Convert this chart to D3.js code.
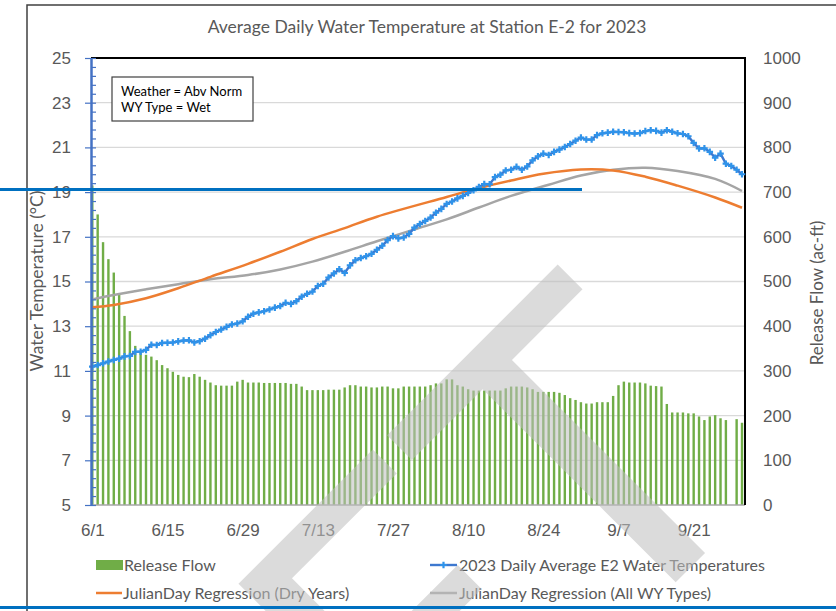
<!DOCTYPE html>
<html>
<head>
<meta charset="utf-8">
<script src="https://cdn.jsdelivr.net/npm/d3@7"></script>
<style>
  body { margin: 0; background: #fff; }
  svg { display: block; font-family: Lato, "Open Sans", sans-serif; }
</style>
</head>
<body>
<svg id="chart" width="836" height="611"></svg>
<script>
// daily values, one per day starting 6/1/2023
const startDay = "2023-06-01";

const releaseFlow = [
  715, 650, 588, 550, 520, 470, 423, 389, 356, 343,
  336, 332, 324, 313, 306, 298, 291, 287, 286, 293,
  287, 280, 274, 268, 267, 267, 267, 276, 280, 274,
  274, 274, 273, 273, 273, 273, 273, 271, 271, 265,
  257, 257, 257, 257, 258, 258, 258, 263, 268, 268,
  265, 265, 263, 263, 265, 265, 261, 261, 265, 265,
  265, 265, 265, 268, 272, 272, 281, 281, 268, 265,
  259, 256, 256, 256, 256, 256, 256, 261, 265, 265,
  265, 263, 259, 253, 253, 253, 253, 251, 246, 239,
  235, 230, 227, 227, 230, 230, 230, 244, 268, 276,
  274, 274, 274, 272, 267, 266, 265, 226, 207, 207,
  207, 205, 205, 198, 190, 198, 201, 194, 190, null,
  192, 184
];

const dailyTemp = [
  11.19, 11.26, 11.34, 11.42, 11.49, 11.55, 11.65, 11.67, 11.85, 11.86,
  11.94, 12.17, 12.16, 12.25, 12.26, 12.27, 12.32, 12.36, 12.37, 12.27,
  12.33, 12.44, 12.60, 12.74, 12.85, 12.97, 13.08, 13.12, 13.22, 13.42,
  13.56, 13.62, 13.67, 13.75, 13.83, 13.90, 14.05, 14.00, 14.12, 14.32,
  14.45, 14.55, 14.80, 14.90, 15.18, 15.36, 15.55, 15.38, 15.72, 15.95,
  16.05, 16.13, 16.24, 16.42, 16.60, 16.85, 17.03, 16.93, 16.97, 17.13,
  17.41, 17.57, 17.71, 17.86, 18.08, 18.25, 18.47, 18.58, 18.72, 18.83,
  18.96, 19.08, 19.23, 19.36, 19.35, 19.67, 19.78, 19.97, 20.00, 20.13,
  20.00, 20.15, 20.42, 20.60, 20.72, 20.66, 20.80, 20.90, 21.02, 21.15,
  21.30, 21.44, 21.35, 21.35, 21.55, 21.63, 21.66, 21.70, 21.69, 21.68,
  21.64, 21.62, 21.64, 21.73, 21.77, 21.74, 21.66, 21.77, 21.70, 21.63,
  21.60, 21.50, 21.20, 20.95, 20.96, 20.80, 20.54, 20.72, 20.27, 20.17,
  20.00, 19.80
];

// regression curves, read at sample days (day index from 6/1)
const dryDays = [0, 4, 10, 16, 22, 29, 35, 41, 47, 53, 66, 72, 78, 84, 91, 97, 103, 109, 116, 121];
const dryTemp = [13.85, 13.95, 14.25, 14.70, 15.21, 15.79, 16.33, 16.90, 17.39, 17.90, 18.78, 19.18, 19.52, 19.82, 20.01, 19.97, 19.69, 19.29, 18.76, 18.30];

const allDays = [0, 4, 10, 16, 22, 29, 35, 41, 47, 53, 60, 66, 72, 78, 85, 91, 97, 103, 109, 116, 121];
const allTemp = [14.20, 14.40, 14.65, 14.88, 15.10, 15.29, 15.54, 15.89, 16.33, 16.80, 17.33, 17.78, 18.31, 18.83, 19.33, 19.74, 20.00, 20.09, 19.94, 19.59, 19.05];

const xTickDays = [0, 14, 28, 42, 56, 70, 84, 98, 112];
const xTickLabels = ["6/1", "6/15", "6/29", "7/13", "7/27", "8/10", "8/24", "9/7", "9/21"];
const tempTicks = [5, 7, 9, 11, 13, 15, 17, 19, 21, 23, 25];
const flowTicks = [0, 100, 200, 300, 400, 500, 600, 700, 800, 900, 1000];

const svg = d3.select("#chart");
const day0 = d3.timeParse("%Y-%m-%d")(startDay);
const dayOf = (i) => d3.timeDay.offset(day0, i);

const plot = { left: 91, right: 745, top: 58, bottom: 505 };

const x = d3.scaleTime()
  .domain([dayOf(0), dayOf(121)])
  .range([92.3, 742]);
const yT = d3.scaleLinear().domain([5, 25]).range([plot.bottom, plot.top]);
const yF = d3.scaleLinear().domain([0, 1000]).range([plot.bottom, plot.top]);

const grey = "#595959";

// outer chart frame
svg.append("path")
  .attr("d", "M27,611V5H836")
  .attr("fill", "none")
  .attr("stroke", "#404040")
  .attr("stroke-width", 1.5);

// title
svg.append("text")
  .attr("x", 427)
  .attr("y", 33)
  .attr("text-anchor", "middle")
  .attr("fill", grey)
  .style("font-size", "17.5px")
  .text("Average Daily Water Temperature at Station E-2 for 2023");

// gridlines
svg.append("g")
  .selectAll("line")
  .data(tempTicks.filter(t => t > 5 && t < 25))
  .join("line")
  .attr("x1", plot.left)
  .attr("x2", plot.right)
  .attr("y1", d => yT(d))
  .attr("y2", d => yT(d))
  .attr("stroke", "#d9d9d9")
  .attr("stroke-width", 1.3);

// release flow bars
const flowData = releaseFlow.map((v, i) => ({ date: dayOf(i), v })).filter(d => d.v != null);
svg.append("g")
  .selectAll("rect")
  .data(flowData)
  .join("rect")
  .attr("x", d => x(d.date) - 1.2)
  .attr("width", 2.4)
  .attr("y", d => yF(d.v))
  .attr("height", d => plot.bottom - yF(d.v))
  .attr("fill", "#70AD47");

// bottom axis line and plot border
svg.append("line")
  .attr("x1", plot.left).attr("x2", plot.right)
  .attr("y1", plot.bottom).attr("y2", plot.bottom)
  .attr("stroke", "#a6a6a6").attr("stroke-width", 1.5);

svg.append("path")
  .attr("d", `M${plot.left},${plot.top}H${plot.right}V${plot.bottom}`)
  .attr("fill", "none")
  .attr("stroke", "#000")
  .attr("stroke-width", 2);

// regression curves
const curveLine = d3.line()
  .x(d => x(d.date))
  .y(d => yT(d.v))
  .curve(d3.curveCatmullRom);

const dryData = dryDays.map((d, i) => ({ date: dayOf(d), v: dryTemp[i] }));
const allData = allDays.map((d, i) => ({ date: dayOf(d), v: allTemp[i] }));

svg.append("path")
  .datum(allData)
  .attr("fill", "none")
  .attr("stroke", "#A5A5A5")
  .attr("stroke-width", 2.5)
  .attr("d", curveLine);

svg.append("path")
  .datum(dryData)
  .attr("fill", "none")
  .attr("stroke", "#ED7D31")
  .attr("stroke-width", 2.5)
  .attr("d", curveLine);

// 2023 daily temperatures
const tempData = dailyTemp.map((v, i) => ({ date: dayOf(i), v }));
const tempLine = d3.line().x(d => x(d.date)).y(d => yT(d.v));

svg.append("path")
  .datum(tempData)
  .attr("fill", "none")
  .attr("stroke", "#3d78cf")
  .attr("stroke-width", 2.4)
  .attr("d", tempLine);

svg.append("g")
  .selectAll("path")
  .data(tempData)
  .join("path")
  .attr("transform", d => `translate(${x(d.date)},${yT(d.v)})`)
  .attr("d", d3.symbol(d3.symbolCross, 24))
  .attr("fill", "#2f93ea");

// left axis (blue, minor ticks inside)
const minorTicks = d3.range(5, 25.01, 0.4);
svg.append("g")
  .attr("transform", `translate(${plot.left},0)`)
  .call(d3.axisLeft(yT).tickValues(minorTicks).tickSize(-5).tickSizeOuter(0).tickFormat(""))
  .call(g => g.selectAll(".tick line").attr("stroke", "#4472C4").attr("stroke-width", 1.2))
  .call(g => g.select(".domain").attr("stroke", "#4472C4").attr("stroke-width", 2.5));

svg.append("g")
  .attr("transform", `translate(${plot.left},0)`)
  .call(d3.axisLeft(yT).tickValues(tempTicks).tickSize(6).tickPadding(14))
  .call(g => g.select(".domain").remove())
  .call(g => g.selectAll(".tick line").attr("stroke", "#4472C4").attr("stroke-width", 1.2))
  .call(g => g.selectAll(".tick text").attr("fill", grey).style("font-size", "17px").style("font-family", "inherit"));

// right axis
svg.append("g")
  .attr("transform", `translate(${plot.right},0)`)
  .call(d3.axisRight(yF).tickValues(flowTicks).tickSize(0).tickPadding(18).tickFormat(d3.format("d")))
  .call(g => g.select(".domain").remove())
  .call(g => g.selectAll(".tick text").attr("fill", grey).style("font-size", "17px").style("font-family", "inherit"));

// bottom axis labels
svg.append("g")
  .attr("transform", `translate(0,${plot.bottom})`)
  .call(d3.axisBottom(x).tickValues(xTickDays.map(dayOf)).tickSize(0).tickPadding(19)
    .tickFormat((d, i) => xTickLabels[i]))
  .call(g => g.select(".domain").remove())
  .call(g => g.selectAll(".tick text").attr("fill", grey).style("font-size", "17px").style("font-family", "inherit"));

// axis titles
svg.append("text")
  .attr("transform", "translate(43,281) rotate(-90)")
  .attr("text-anchor", "middle")
  .attr("fill", grey)
  .style("font-size", "17.5px")
  .text("Water Temperature (°C)");

svg.append("text")
  .attr("transform", "translate(823,293) rotate(-90)")
  .attr("text-anchor", "middle")
  .attr("fill", grey)
  .style("font-size", "17px")
  .text("Release Flow (ac-ft)");

// note box
const note = svg.append("g");
note.append("rect")
  .attr("x", 112).attr("y", 77).attr("width", 141).attr("height", 44)
  .attr("fill", "#fff").attr("stroke", "#404040").attr("stroke-width", 1.2);
note.append("text").attr("x", 121).attr("y", 96).style("font-size", "13px").text("Weather = Abv Norm");
note.append("text").attr("x", 121).attr("y", 112).style("font-size", "13px").text("WY Type = Wet");

// legend
const legend = svg.append("g").style("font-size", "16px").attr("fill", grey);
legend.append("rect").attr("x", 96).attr("y", 560).attr("width", 27).attr("height", 10).attr("fill", "#70AD47");
legend.append("text").attr("x", 124).attr("y", 565).attr("dy", "0.35em").text("Release Flow");

legend.append("line").attr("x1", 430).attr("x2", 457).attr("y1", 565).attr("y2", 565)
  .attr("stroke", "#3d78cf").attr("stroke-width", 2.4);
legend.append("path").attr("transform", "translate(443.5,565)")
  .attr("d", d3.symbol(d3.symbolCross, 24)).attr("fill", "#2f93ea");
legend.append("text").attr("x", 459).attr("y", 565).attr("dy", "0.35em").text("2023 Daily Average E2 Water Temperatures");

legend.append("line").attr("x1", 96).attr("x2", 122).attr("y1", 593).attr("y2", 593)
  .attr("stroke", "#ED7D31").attr("stroke-width", 2.5);
legend.append("text").attr("x", 123).attr("y", 593).attr("dy", "0.35em").text("JulianDay Regression (Dry Years)");

legend.append("line").attr("x1", 430).attr("x2", 457).attr("y1", 593).attr("y2", 593)
  .attr("stroke", "#A5A5A5").attr("stroke-width", 2.5);
legend.append("text").attr("x", 459).attr("y", 593).attr("dy", "0.35em").text("JulianDay Regression (All WY Types)");

// draft watermark
svg.append("text")
  .attr("transform", "translate(780,478) rotate(-45)")
  .attr("text-anchor", "end")
  .attr("fill", "#bfbfbf")
  .attr("opacity", 0.55)
  .style("font-size", "430px")
  .text("DRAFT");

// blue markup lines
svg.append("line")
  .attr("x1", 0).attr("x2", 582).attr("y1", 189.5).attr("y2", 189.5)
  .attr("stroke", "#0070C0").attr("stroke-width", 3);
svg.append("line")
  .attr("x1", 0).attr("x2", 836).attr("y1", 607.5).attr("y2", 607.5)
  .attr("stroke", "#0070C0").attr("stroke-width", 3);
</script>
</body>
</html>
